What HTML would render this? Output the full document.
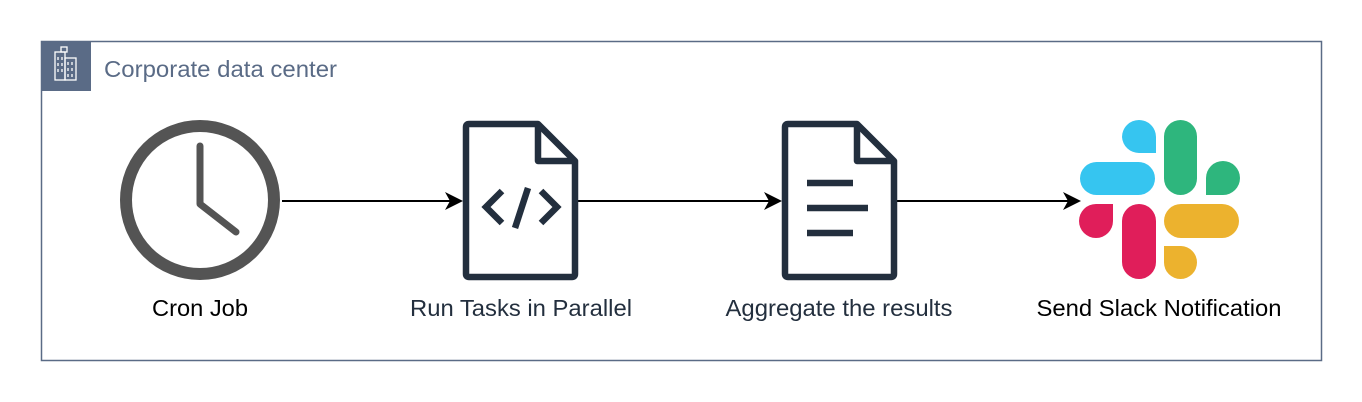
<!DOCTYPE html>
<html><head><style>
body{margin:0;width:1362px;height:402px;background:#fff;overflow:hidden}
svg{display:block}
text{font-family:"Liberation Sans",Arial,sans-serif}
</style></head><body>
<svg width="1362" height="402" viewBox="0 0 1362 402">
<rect x="41.5" y="41.5" width="1280" height="319" fill="none" stroke="#5a6b86" stroke-width="1.5"/>
<rect x="41" y="41" width="50" height="50" fill="#5a6b86"/>
<g stroke="#fff" stroke-width="1.3" fill="none">
<rect x="55" y="52" width="10" height="28"/><rect x="61" y="47" width="6" height="5"/><rect x="65" y="58" width="11" height="22"/>
<path d="M58 57v3M62 57v3M58 63v3M62 63v3M58 69v3M62 69v3M68 62v3M72 62v3M68 68v3M72 68v3M68 74v3M72 74v3"/>
</g>
<text x="104" y="77" font-size="23" fill="#5a6b86" textLength="233" lengthAdjust="spacingAndGlyphs">Corporate data center</text>
<!-- clock -->
<circle cx="200" cy="200" r="74" fill="none" stroke="#545454" stroke-width="12"/>
<path d="M200 146V204L236 232" fill="none" stroke="#545454" stroke-width="7" stroke-linecap="round" stroke-linejoin="round"/>
<!-- arrows -->
<g stroke="#000" stroke-width="2">
<line x1="282" y1="201" x2="452" y2="201"/>
<line x1="578" y1="201" x2="771" y2="201"/>
<line x1="897" y1="201" x2="1070" y2="201"/>
</g>
<g fill="#000">
<path d="M463 201L445 192L450 201L445 210Z"/>
<path d="M782 201L764 192L769 201L764 210Z"/>
<path d="M1081 201L1063 192L1068 201L1063 210Z"/>
</g>
<!-- doc 1 -->
<g fill="none" stroke="#232f3e" stroke-width="6.5" stroke-linejoin="round">
<path d="M469 124H538L575 161V274Q575 277 572 277H469Q466 277 466 274V127Q466 124 469 124Z"/>
<path d="M538 124V161H575"/>
<path d="M502 191L486 207L502 223M541 191L557 207L541 223" stroke-linejoin="miter"/>
<path d="M528 188L515 228"/>
</g>
<!-- doc 2 -->
<g fill="none" stroke="#232f3e" stroke-width="6.5" stroke-linejoin="round">
<path d="M788 124H857L894 161V274Q894 277 891 277H788Q785 277 785 274V127Q785 124 788 124Z"/>
<path d="M857 124V161H894"/>
<path d="M807 183H853M807 208H868M807 233H853"/>
</g>
<!-- slack -->
<g>
<rect x="1080" y="162" width="75" height="33" rx="16.5" fill="#36c5f0"/>
<path d="M1122 137A17 17 0 0 1 1156 137V153H1139A17 17 0 0 1 1122 137Z" fill="#36c5f0"/>
<rect x="1164" y="120" width="33" height="75" rx="16.5" fill="#2eb67d"/>
<path d="M1206 195V178A17 17 0 1 1 1223 195Z" fill="#2eb67d"/>
<rect x="1164" y="204" width="75" height="34" rx="17" fill="#ecb22e"/>
<path d="M1164 246H1181A16.5 16.5 0 0 1 1197 262.5A16.5 16.5 0 0 1 1164 262.5Z" fill="#ecb22e"/>
<rect x="1122" y="204" width="34" height="75" rx="17" fill="#e01e5a"/>
<path d="M1113 204V221A17 17 0 1 1 1096 204Z" fill="#e01e5a"/>
</g>
<g font-size="23" fill="#000" text-anchor="middle" lengthAdjust="spacingAndGlyphs">
<text x="200" y="316" textLength="96" lengthAdjust="spacingAndGlyphs">Cron Job</text>
<text x="521" y="316" fill="#232f3e" textLength="222" lengthAdjust="spacingAndGlyphs">Run Tasks in Parallel</text>
<text x="839" y="316" fill="#232f3e" textLength="227" lengthAdjust="spacingAndGlyphs">Aggregate the results</text>
<text x="1159" y="316" textLength="245" lengthAdjust="spacingAndGlyphs">Send Slack Notification</text>
</g>
</svg>
</body></html>
